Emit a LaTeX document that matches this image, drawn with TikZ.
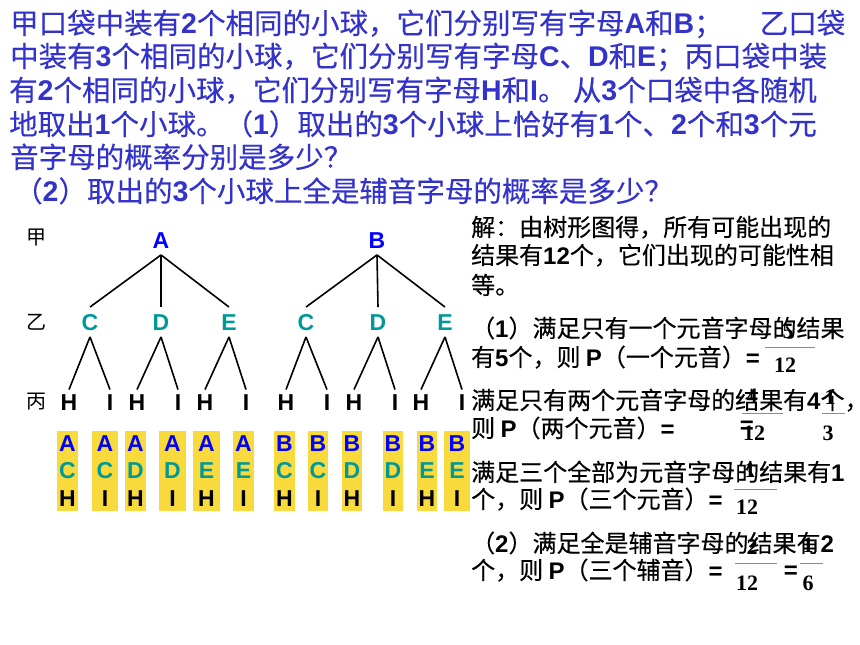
\documentclass[tikz,border=0pt]{standalone}
\usepackage{fontspec}
\setmainfont{Liberation Sans}
\newfontfamily\cjk[FakeBold=0.3]{Noto Sans CJK SC}
\newfontfamily\cjklight{Noto Sans CJK SC}
\newfontfamily\serifnum{Liberation Serif}
\newcommand\en[1]{{\normalfont\bfseries #1}}
\definecolor{qblue}{RGB}{51,51,204}
\definecolor{myblue}{RGB}{0,0,255}
\definecolor{myteal}{RGB}{0,153,153}
\definecolor{myyellow}{RGB}{248,218,60}
\definecolor{mygray}{RGB}{140,140,140}
\tikzstyle{question}=[anchor=west,inner sep=0pt,text=qblue,font=\cjk\fontsize{28.5}{34}\selectfont,
                      text height=25pt,text depth=3.5pt]
\tikzstyle{answer}=[anchor=west,inner sep=0pt,font=\cjk\fontsize{24}{29}\selectfont,
                    text height=21.1pt,text depth=2.9pt]
\tikzstyle{rowname}=[inner sep=0pt,font=\cjklight\fontsize{20}{22}\selectfont]
\tikzstyle{treeletter}=[inner xsep=0pt,inner ysep=6.5pt,text height=16.5pt,text depth=0pt,
                        font=\bfseries\fontsize{23}{27.5}\selectfont,text=#1]
\tikzstyle{leafletter}=[treeletter=black,inner ysep=4pt]
\tikzstyle{combo}=[fill=myyellow,inner sep=0pt,minimum height=80pt,align=center,
                   font=\bfseries\fontsize{23}{27.5}\selectfont]
\tikzstyle{branch}=[black,line width=1.6pt]
\tikzstyle{fracdigit}=[inner sep=0pt,font=\serifnum\bfseries\fontsize{22}{26}\selectfont]
\tikzstyle{fracbar}=[mygray,line width=0.8pt]
\tikzstyle{eqsign}=[inner sep=0pt,font=\bfseries\fontsize{24}{29}\selectfont]

\begin{document}
\begin{tikzpicture}[x=1pt,y=-1pt]
  \fill[white] (0,0) rectangle (860,645);
  \useasboundingbox (0,0) rectangle (860,645);

  % question
  \node[question] (q1) at (10,23) {甲口袋中装有\en{2}个相同的小球，它们分别写有字母\en{A}和\en{B}；\hspace{1.3em}乙口袋};
  \node[question] (q2) at (10,56) {中装有\en{3}个相同的小球，它们分别写有字母\en{C}、\en{D}和\en{E}；丙口袋中装};
  \node[question] (q3) at (9,90) {有\en{2}个相同的小球，它们分别写有字母\en{H}和\en{I}。 从\en{3}个口袋中各随机};
  \node[question] (q4) at (9,124) {地取出\en{1}个小球。（\en{1}）取出的\en{3}个小球上恰好有\en{1}个、\en{2}个和\en{3}个元};
  \node[question] (q5) at (10,157) {音字母的概率分别是多少？};
  \node[question] (q6) at (14,191) {（\en{2}）取出的\en{3}个小球上全是辅音字母的概率是多少？};

  % row names
  \node[rowname] (jia) at (37,238) {甲};
  \node[rowname] (yi) at (37,322) {乙};
  \node[rowname] (bing) at (37,402) {丙};

  % first bag
  \node[treeletter=myblue] (A) at (161,240) {A};
  \node[treeletter=myblue] (B) at (377,240) {B};

  % second bag
  \node[treeletter=myteal] (AC) at (90,322) {C};
  \node[treeletter=myteal] (AD) at (161,322) {D};
  \node[treeletter=myteal] (AE) at (229,322) {E};
  \node[treeletter=myteal] (BC) at (306,322) {C};
  \node[treeletter=myteal] (BD) at (378,322) {D};
  \node[treeletter=myteal] (BE) at (445,322) {E};
  \draw[branch] (A.south) -- (AC.north);
  \draw[branch] (A.south) -- (AD.north);
  \draw[branch] (A.south) -- (AE.north);
  \draw[branch] (B.south) -- (BC.north);
  \draw[branch] (B.south) -- (BD.north);
  \draw[branch] (B.south) -- (BE.north);

  % third bag
  \node[leafletter] (ACH) at (69,402) {H};
  \node[leafletter] (ACI) at (110,402) {I};
  \node[leafletter] (ADH) at (137,402) {H};
  \node[leafletter] (ADI) at (178,402) {I};
  \node[leafletter] (AEH) at (205,402) {H};
  \node[leafletter] (AEI) at (246,402) {I};
  \node[leafletter] (BCH) at (286,402) {H};
  \node[leafletter] (BCI) at (327,402) {I};
  \node[leafletter] (BDH) at (354,402) {H};
  \node[leafletter] (BDI) at (395,402) {I};
  \node[leafletter] (BEH) at (421,402) {H};
  \node[leafletter] (BEI) at (462,402) {I};
  \draw[branch] (AC.south) -- (ACH.north);
  \draw[branch] (AC.south) -- (ACI.north);
  \draw[branch] (AD.south) -- (ADH.north);
  \draw[branch] (AD.south) -- (ADI.north);
  \draw[branch] (AE.south) -- (AEH.north);
  \draw[branch] (AE.south) -- (AEI.north);
  \draw[branch] (BC.south) -- (BCH.north);
  \draw[branch] (BC.south) -- (BCI.north);
  \draw[branch] (BD.south) -- (BDH.north);
  \draw[branch] (BD.south) -- (BDI.north);
  \draw[branch] (BE.south) -- (BEH.north);
  \draw[branch] (BE.south) -- (BEI.north);

  % outcomes
  \node[combo,minimum width=21pt] (r1) at (67.5,471) {{\color{myblue}A}\\{\color{myteal}C}\\H};
  \node[combo,minimum width=26pt] (r2) at (105,471) {{\color{myblue}A}\\{\color{myteal}C}\\I};
  \node[combo,minimum width=21pt] (r3) at (135.5,471) {{\color{myblue}A}\\{\color{myteal}D}\\H};
  \node[combo,minimum width=27pt] (r4) at (172.5,471) {{\color{myblue}A}\\{\color{myteal}D}\\I};
  \node[combo,minimum width=27pt] (r5) at (206.5,471) {{\color{myblue}A}\\{\color{myteal}E}\\H};
  \node[combo,minimum width=21pt] (r6) at (243.5,471) {{\color{myblue}A}\\{\color{myteal}E}\\I};
  \node[combo,minimum width=21pt] (r7) at (284.5,471) {{\color{myblue}B}\\{\color{myteal}C}\\H};
  \node[combo,minimum width=20pt] (r8) at (318,471) {{\color{myblue}B}\\{\color{myteal}C}\\I};
  \node[combo,minimum width=20pt] (r9) at (352,471) {{\color{myblue}B}\\{\color{myteal}D}\\H};
  \node[combo,minimum width=20pt] (r10) at (393,471) {{\color{myblue}B}\\{\color{myteal}D}\\I};
  \node[combo,minimum width=20pt] (r11) at (427,471) {{\color{myblue}B}\\{\color{myteal}E}\\H};
  \node[combo,minimum width=26pt] (r12) at (457,471) {{\color{myblue}B}\\{\color{myteal}E}\\I};

  % answer
  \node[answer] (s1) at (471,227) {解：由树形图得，所有可能出现的};
  \node[answer] (s2) at (471,255) {结果有\en{12}个，它们出现的可能性相};
  \node[answer] (s3) at (471,285) {等。};
  \node[answer] (s4) at (471,328) {（\en{1}）满足只有一个元音字母的结果};
  \node[answer] (s5) at (471,357) {有\en{5}个，则 \en{P}（一个元音）\en{=}};
  \node[answer] (s6) at (471,400) {满足只有两个元音字母的结果有\en{4}个，};
  \node[answer] (s7) at (471,428) {则 \en{P}（两个元音）\en{=}};
  \node[answer] (s8) at (471,472) {满足三个全部为元音字母的结果有\en{1}};
  \node[answer] (s9) at (471,499) {个，则 \en{P}（三个元音）\en{=}};
  \node[answer] (s10) at (471,543) {（\en{2}）满足全是辅音字母的结果有\en{2}};
  \node[answer] (s11) at (471,570) {个，则 \en{P}（三个辅音）\en{=}};

  % fractions
  \node[fracdigit] (f1n) at (788,331) {5};
  \draw[fracbar] (765,347) -- (815,347);
  \node[fracdigit] (f1d) at (785,365) {12};

  \node[fracdigit] (f2n) at (752,396) {4};
  \draw[fracbar] (742,413) -- (783,413);
  \node[fracdigit] (f2d) at (754,433) {12};
  \node[eqsign] (e2) at (747,427) {=};
  \node[fracdigit] (f5n) at (830,397) {1};
  \draw[fracbar] (822,413) -- (845,413);
  \node[fracdigit] (f5d) at (828,433) {3};

  \node[fracdigit] (f3n) at (750,470) {1};
  \draw[fracbar] (734,489) -- (777,489);
  \node[fracdigit] (f3d) at (747,507) {12};

  \node[fracdigit] (f4n) at (752,547) {2};
  \draw[fracbar] (735,563) -- (777,563);
  \node[fracdigit] (f4d) at (747,583) {12};
  \node[eqsign] (e4) at (791,572) {=};
  \node[fracdigit] (f6n) at (808,545) {1};
  \draw[fracbar] (800,563) -- (823,563);
  \node[fracdigit] (f6d) at (808,583) {6};
\end{tikzpicture}
\end{document}
